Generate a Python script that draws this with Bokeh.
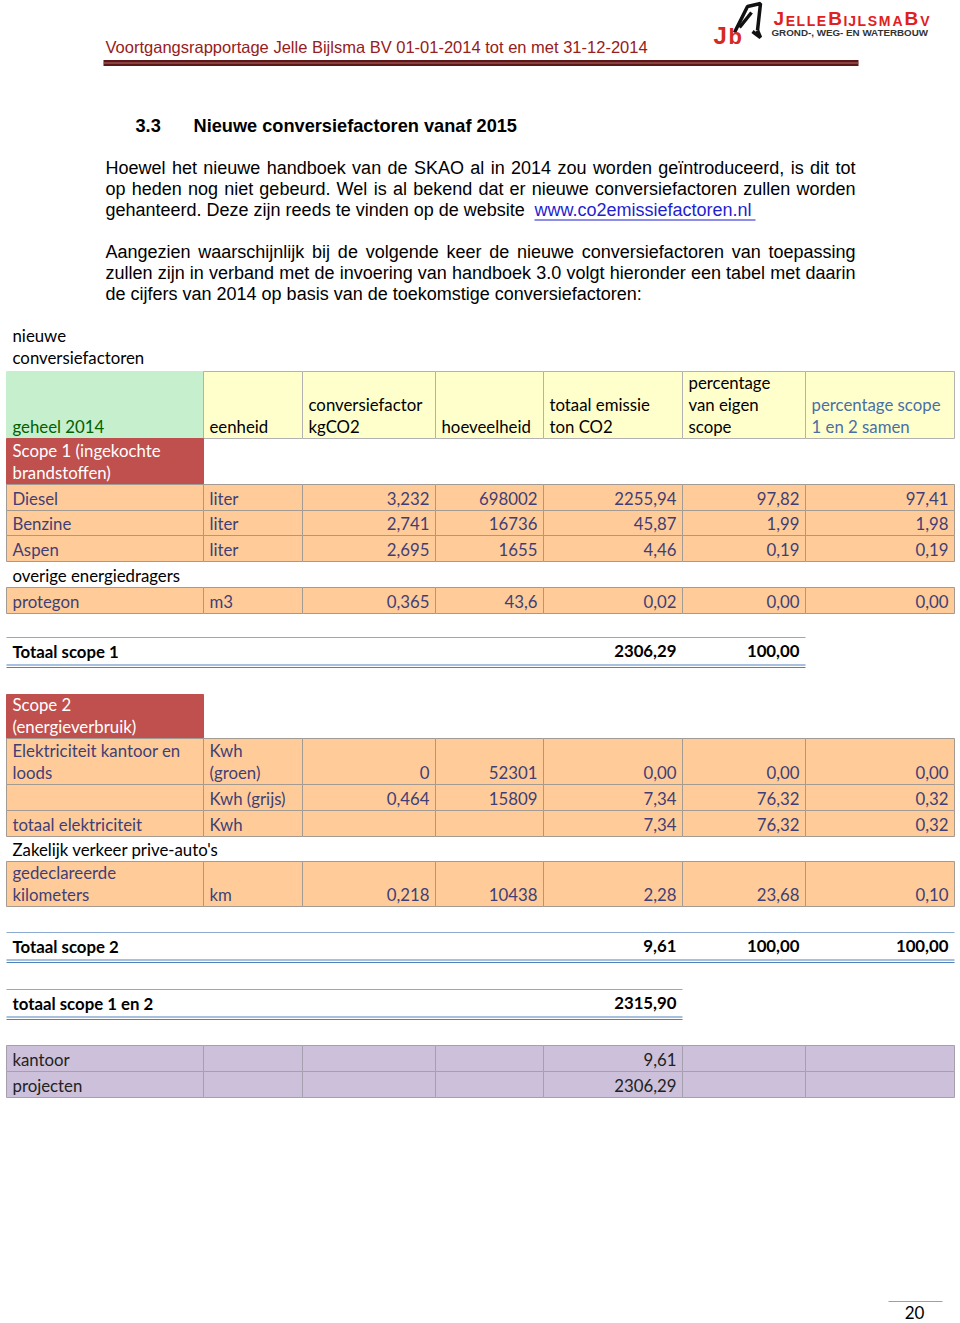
from bokeh.plotting import figure
from bokeh.models import Range1d, ColumnDataSource
from bokeh.embed import file_html
from bokeh.resources import INLINE

# ---------------- data (texts and values read from the page) ----------------
page_header = "Voortgangsrapportage Jelle Bijlsma BV 01-01-2014 tot en met 31-12-2014"
logo_name = "JELLEBIJLSMABV"
logo_sub = "GROND-, WEG- EN WATERBOUW"
section_no = "3.3"
section_title = "Nieuwe conversiefactoren vanaf 2015"
para1 = [
    "Hoewel het nieuwe handboek van de SKAO al in 2014 zou worden geïntroduceerd, is dit tot",
    "op heden nog niet gebeurd. Wel is al bekend dat er nieuwe conversiefactoren zullen worden",
    "gehanteerd. Deze zijn reeds te vinden op de website ",
]
link_text = "www.co2emissiefactoren.nl"
para2 = [
    "Aangezien waarschijnlijk bij de volgende keer de nieuwe conversiefactoren van toepassing",
    "zullen zijn in verband met de invoering van handboek 3.0 volgt hieronder een tabel met daarin",
    "de cijfers van 2014 op basis van de toekomstige conversiefactoren:",
]
table_caption = ["nieuwe", "conversiefactoren"]
header_cells = [["geheel 2014"], ["eenheid"], ["conversiefactor", "kgCO2"], ["hoeveelheid"],
                ["totaal emissie", "ton CO2"], ["percentage", "van eigen", "scope"],
                ["percentage scope", "1 en 2 samen"]]

scope1_title = ["Scope 1 (ingekochte", "brandstoffen)"]
fuel_names = ["Diesel", "Benzine", "Aspen"]
fuel_units = ["liter", "liter", "liter"]
fuel_factors = ["3,232", "2,741", "2,695"]
fuel_qty = ["698002", "16736", "1655"]
fuel_emission = ["2255,94", "45,87", "4,46"]
fuel_pct_own = ["97,82", "1,99", "0,19"]
fuel_pct_all = ["97,41", "1,98", "0,19"]

other_title = "overige energiedragers"
other_names = ["protegon"]
other_units = ["m3"]
other_factors = ["0,365"]
other_qty = ["43,6"]
other_emission = ["0,02"]
other_pct_own = ["0,00"]
other_pct_all = ["0,00"]

total1_label = "Totaal scope 1"
total1_values = ["2306,29", "100,00"]

scope2_title = ["Scope 2", "(energieverbruik)"]
elec_names = [["Elektriciteit kantoor en", "loods"], [""], ["totaal elektriciteit"]]
elec_units = [["Kwh", "(groen)"], ["Kwh (grijs)"], ["Kwh"]]
elec_factors = ["0", "0,464", ""]
elec_qty = ["52301", "15809", ""]
elec_emission = ["0,00", "7,34", "7,34"]
elec_pct_own = ["0,00", "76,32", "76,32"]
elec_pct_all = ["0,00", "0,32", "0,32"]

car_title = "Zakelijk verkeer prive-auto's"
car_names = [["gedeclareerde", "kilometers"]]
car_units = [["km"]]
car_factors = ["0,218"]
car_qty = ["10438"]
car_emission = ["2,28"]
car_pct_own = ["23,68"]
car_pct_all = ["0,10"]

total2_label = "Totaal scope 2"
total2_values = ["9,61", "100,00", "100,00"]
total12_label = "totaal scope 1 en 2"
total12_value = "2315,90"
split_names = ["kantoor", "projecten"]
split_values = ["9,61", "2306,29"]
page_number = "20"

# ---------------- layout / styles ----------------
W, H = 956, 1323
COLS = [6, 203, 302, 435, 543, 682, 805, 954]
LINE_H = 22
TFONT = "Lato"
TSIZE = 16.8
AFONT = "Liberation Sans"
PSIZE = 18
TEXT_K = 0.42   # baseline correction (fraction of font size)

C_GREEN, C_GREEN_T = "#C6EFCE", "#006100"
C_NOTE, C_NOTE_B = "#FFFFCC", "#B2B2B2"
C_RED = "#C0504D"
C_INPUT, C_INPUT_T, C_INPUT_B = "#FFCC99", "#3F3F76", "#A39A92"
C_PURPLE, C_PURPLE_B = "#CCC0DA", "#A6A0AE"
C_TOTAL = "#4F81BD"

# Arial / Liberation Sans advance widths (per 1000 em) for justification
ARIAL_W = dict(zip("abcdefghijklmnopqrstuvwxyz", [556, 556, 500, 556, 556, 278, 556, 556, 222, 222,
                                                  500, 222, 833, 556, 556, 556, 556, 333, 500, 278,
                                                  556, 500, 722, 500, 500, 500]))
ARIAL_W.update({"ï": 278, " ": 278, ".": 278, ",": 278, ":": 278, "H": 722, "S": 667, "K": 667,
                "A": 667, "O": 778, "W": 944, "D": 722})
for d in "0123456789":
    ARIAL_W[d] = 556

p = figure(width=W, height=H, x_range=Range1d(0, W), y_range=Range1d(H, 0),
           output_backend="svg", toolbar_location=None, x_axis_location=None,
           y_axis_location=None, min_border=0, outline_line_color=None,
           background_fill_color="white", border_fill_color="white")
p.grid.visible = False

quads = dict(left=[], right=[], top=[], bottom=[], fill=[], line=[])
texts = dict(x=[], y=[], text=[], font=[], size=[], style=[], color=[], align=[])


def add_quad(l, r, t, b, fill, line):
    for k, v in zip(["left", "right", "top", "bottom", "fill", "line"], [l, r, t, b, fill, line]):
        quads[k].append(v)


def add_text(x, y, s, font=TFONT, size=TSIZE, style="normal", color="#000000", align="left"):
    vals = [x, y - TEXT_K * size, s, font, "%.1fpx" % size, style, color, align]
    for k, v in zip(["x", "y", "text", "font", "size", "style", "color", "align"], vals):
        texts[k].append(v)


def justified(line, y, x0=105, x1=855, size=PSIZE):
    words = line.split(" ")
    widths = [sum(ARIAL_W.get(ch, 556) for ch in w) * size / 1000 for w in words]
    gap = (x1 - x0 - sum(widths)) / (len(words) - 1)
    x = x0
    for i, w in enumerate(words):
        if i == len(words) - 1:
            add_text(x1, y, w, font=AFONT, size=size, align="right")
        else:
            add_text(x, y, w, font=AFONT, size=size)
        x += widths[i] + gap


def cell(ci, bottom, lines, align="left", color="#000000", style="normal"):
    if isinstance(lines, str):
        lines = [lines]
    x = COLS[ci] + 6 if align == "left" else COLS[ci + 1] - 6
    n = len(lines)
    for i, ln in enumerate(lines):
        if ln:
            add_text(x, bottom - 5 - LINE_H * (n - 1 - i), ln, style=style, color=color, align=align)


def data_row(top, bottom, name, unit, factor, qty, emis, pown, pall):
    for ci in range(7):
        add_quad(COLS[ci], COLS[ci + 1], top, bottom, C_INPUT, C_INPUT_B)
    cell(0, bottom, name, color=C_INPUT_T)
    cell(1, bottom, unit, color=C_INPUT_T)
    for ci, v in zip(range(2, 7), [factor, qty, emis, pown, pall]):
        cell(ci, bottom, v, align="right", color=C_INPUT_T)


# ---- page header ----
add_text(105, 53, page_header, font=AFONT, size=16.5, color="#962020")
p.quad(left=[103], right=[858], top=[59.5], bottom=[65.5], fill_color="#5C1818", line_color=None)
p.segment(x0=[103], x1=[858], y0=[62.5], y1=[62.5], line_color="#B86A6A", line_width=1)

# logo
big = {0, 5, 12}
w_arial_bold = {"J": .556, "E": .667, "L": .611, "B": .722, "I": .278, "S": .667, "M": .833,
                "A": .722, "V": .667}
adv = [w_arial_bold[c] * (1.35 if i in big else 1.0) for i, c in enumerate(logo_name)]
scale = (930 - 772) / sum(adv)
xc = 772
for i, c in enumerate(logo_name):
    add_text(xc + adv[i] * scale / 2, 26, c, font=AFONT, size=19 if i in big else 14,
             style="bold", color="#E0211D", align="center")
    xc += adv[i] * scale
add_text(771, 36.5, logo_sub, font=AFONT, size=9.8, style="bold", color="#333333")
p.multi_line(xs=[[734, 747, 760, 757], [739, 751], [752, 760, 757]],
             ys=[[32, 6, 3, 30], [27, 12], [31, 37, 30]],
             line_color="#111111", line_width=3.5)
add_text(713, 45, "J", font=AFONT, size=24, style="bold", color="#D42A23")
add_text(728, 45, "b", font=AFONT, size=22, style="bold", color="#D42A23")

# ---- section heading and paragraphs ----
add_text(135, 133, section_no, font=AFONT, size=18.2, style="bold")
add_text(193, 133, section_title, font=AFONT, size=18.2, style="bold")
for i, ln in enumerate(para1[:2]):
    justified(ln, 175 + 21 * i)
add_text(105, 217, para1[2], font=AFONT, size=PSIZE)
add_text(534, 217, link_text, font=AFONT, size=PSIZE, color="#1F1FD0")
p.segment(x0=[534], x1=[755], y0=[219.5], y1=[219.5], line_color="#1F1FD0", line_width=1)
for i, ln in enumerate(para2[:2]):
    justified(ln, 259 + 21 * i)
add_text(105, 301, para2[2], font=AFONT, size=PSIZE)

# ---- table ----
add_text(12, 342, table_caption[0])
add_text(12, 364, table_caption[1])

# header
H_TOP, H_BOT = 371, 438
for ci in range(7):
    add_quad(COLS[ci], COLS[ci + 1], H_TOP, H_BOT, C_GREEN if ci == 0 else C_NOTE,
             C_GREEN if ci == 0 else C_NOTE_B)
for ci, lines in enumerate(header_cells):
    col = C_GREEN_T if ci == 0 else ("#4A6FA5" if ci == 6 else "#000000")
    cell(ci, H_BOT, lines, color=col)

# scope 1
add_quad(COLS[0], COLS[1], 438, 484, C_RED, C_RED)
cell(0, 484, scope1_title, color="#FFFFFF")
fuel_rows = [(484, 510), (510, 535), (535, 561)]
for (t, b), a, u, f, q, e, po, pa in zip(fuel_rows, fuel_names, fuel_units, fuel_factors,
                                         fuel_qty, fuel_emission, fuel_pct_own, fuel_pct_all):
    data_row(t, b, a, u, f, q, e, po, pa)
cell(0, 587, other_title)
for a, u, f, q, e, po, pa in zip(other_names, other_units, other_factors, other_qty,
                                 other_emission, other_pct_own, other_pct_all):
    data_row(587, 613, a, u, f, q, e, po, pa)

# total scope 1
p.segment(x0=[6], x1=[805], y0=[637], y1=[637], line_color="#8AAAD2", line_width=1.2)
p.segment(x0=[6, 6], x1=[805, 805], y0=[664.5, 667], y1=[664.5, 667], line_color=C_TOTAL, line_width=1.2)
cell(0, 663, total1_label, style="bold")
cell(4, 663, total1_values[0], align="right", style="bold")
cell(5, 663, total1_values[1], align="right", style="bold")

# scope 2
add_quad(COLS[0], COLS[1], 694, 738, C_RED, C_RED)
cell(0, 738, scope2_title, color="#FFFFFF")
elec_rows = [(738, 784), (784, 810), (810, 836)]
for (t, b), a, u, f, q, e, po, pa in zip(elec_rows, elec_names, elec_units, elec_factors,
                                         elec_qty, elec_emission, elec_pct_own, elec_pct_all):
    data_row(t, b, a, u, f, q, e, po, pa)
cell(0, 861, car_title)
for a, u, f, q, e, po, pa in zip(car_names, car_units, car_factors, car_qty, car_emission,
                                 car_pct_own, car_pct_all):
    data_row(861, 906, a, u, f, q, e, po, pa)

# total scope 2
p.segment(x0=[6], x1=[954], y0=[932], y1=[932], line_color="#8AAAD2", line_width=1.2)
p.segment(x0=[6, 6], x1=[954, 954], y0=[959.5, 962], y1=[959.5, 962], line_color=C_TOTAL, line_width=1.2)
cell(0, 958, total2_label, style="bold")
for ci, v in zip([4, 5, 6], total2_values):
    cell(ci, 958, v, align="right", style="bold")

# total scope 1 en 2
p.segment(x0=[6], x1=[682], y0=[989], y1=[989], line_color="#8AAAD2", line_width=1.2)
p.segment(x0=[6, 6], x1=[682, 682], y0=[1016.5, 1019], y1=[1016.5, 1019], line_color=C_TOTAL, line_width=1.2)
cell(0, 1015, total12_label, style="bold")
cell(4, 1015, total12_value, align="right", style="bold")

# kantoor / projecten
split_rows = [(1045, 1071), (1071, 1097)]
for (t, b), nm, v in zip(split_rows, split_names, split_values):
    for ci in range(7):
        add_quad(COLS[ci], COLS[ci + 1], t, b, C_PURPLE, C_PURPLE_B)
    cell(0, b, nm, color="#222222")
    cell(4, b, v, align="right", color="#222222")

# page number
p.segment(x0=[888], x1=[942], y0=[1301], y1=[1301], line_color="#A0A0A0", line_width=1)
add_text(914, 1319, page_number, size=17, color="#000000", align="center")

qsrc = ColumnDataSource(quads)
p.quad(left="left", right="right", top="top", bottom="bottom", fill_color="fill",
       line_color="line", line_width=1, source=qsrc, level="underlay")
tsrc = ColumnDataSource(texts)
p.text(x="x", y="y", text="text", text_font="font", text_font_size="size",
       text_font_style="style", text_color="color", text_align="align",
       text_baseline="alphabetic", source=tsrc)

open("out.html", "w").write(file_html(p, INLINE))
